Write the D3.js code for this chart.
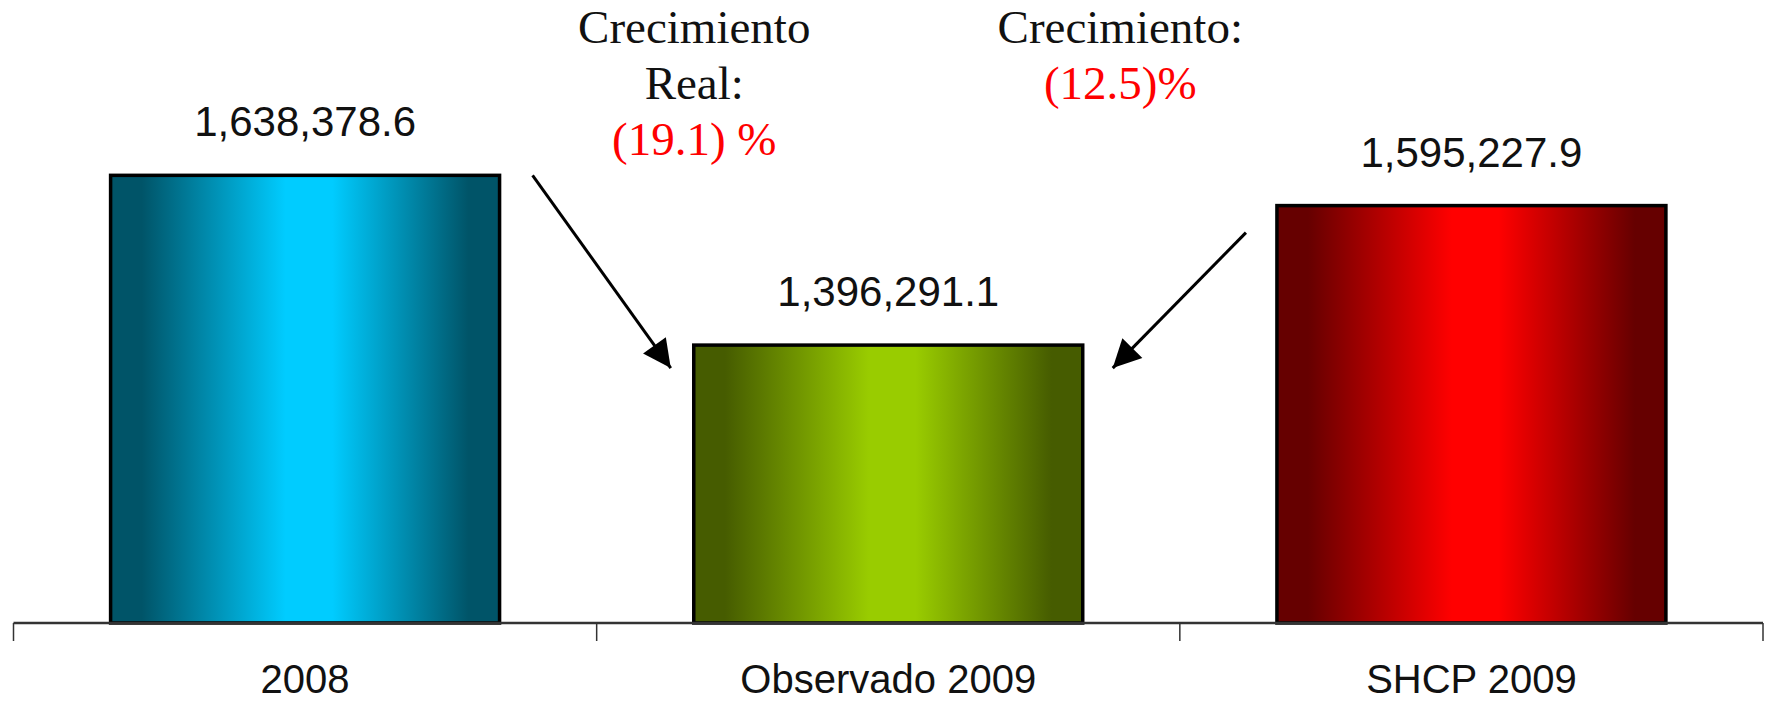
<!DOCTYPE html>
<html>
<head>
<meta charset="utf-8">
<script src="https://cdn.jsdelivr.net/npm/d3@7"></script>
<style>
  body { margin: 0; background: #fff; }
  svg { display: block; }
</style>
</head>
<body>
<script>
// data
var categories = ["2008", "Observado 2009", "SHCP 2009"];
var values = [1638378.6, 1396291.1, 1595227.9];
var edgeColors = ["#005468", "#465c00", "#660000"];
var midColors = ["#00ccff", "#99cc00", "#ff0000"];

// growth notes: black title lines, red value line
var noteLeft = ["Crecimiento", "Real:"];
var noteLeftValue = "(19.1) %";
var noteRight = ["Crecimiento:"];
var noteRightValue = "(12.5)%";

var W = 1770, H = 703;

var svg = d3.select("body").append("svg")
	.attr("width", W)
	.attr("height", H);

var x = d3.scaleBand()
	.domain(categories)
	.range([13.5, 1763])
	.paddingInner(0.333)
	.paddingOuter(0.1665);

var y = d3.scaleLinear()
	.domain([1000000, 1800000])
	.range([623, 62]);

var fmt = d3.format(",.1f");

// gradients, dark at the edges and bright in the middle
var defs = svg.append("defs");
categories.forEach(function(c, i) {
	var g = defs.append("linearGradient")
		.attr("id", "grad" + i)
		.attr("x1", "0%").attr("x2", "100%")
		.attr("y1", "0%").attr("y2", "0%");
	[[0, edgeColors[i]], [8, edgeColors[i]], [45, midColors[i]],
	 [57, midColors[i]], [92, edgeColors[i]], [100, edgeColors[i]]].forEach(function(s) {
		g.append("stop").attr("offset", s[0] + "%").attr("stop-color", s[1]);
	});
});

defs.append("marker")
	.attr("id", "arrow")
	.attr("viewBox", "0 0 10 10")
	.attr("refX", 10).attr("refY", 5)
	.attr("markerWidth", 34).attr("markerHeight", 28)
	.attr("markerUnits", "userSpaceOnUse")
	.attr("orient", "auto")
	.append("path")
		.attr("d", "M0,0 L10,5 L0,10 z")
		.attr("fill", "#000");

// bars
svg.selectAll(".bar")
	.data(values)
	.enter()
	.append("rect")
		.attr("class", "bar")
		.attr("x", function(d, i) { return x(categories[i]); })
		.attr("y", function(d) { return y(d); })
		.attr("width", x.bandwidth())
		.attr("height", function(d) { return y.range()[0] - y(d); })
		.attr("fill", function(d, i) { return "url(#grad" + i + ")"; })
		.attr("stroke", "#000")
		.attr("stroke-width", 3.5);

// value labels
svg.selectAll(".val")
	.data(values)
	.enter()
	.append("text")
		.attr("class", "val")
		.attr("x", function(d, i) { return x(categories[i]) + x.bandwidth() / 2; })
		.attr("y", function(d) { return y(d) - 39; })
		.attr("text-anchor", "middle")
		.style("font-family", "'Liberation Sans', Arial, sans-serif")
		.style("font-size", "42px")
		.attr("fill", "#111")
		.text(function(d) { return fmt(d); });

// axis line and ticks at band boundaries
var base = y.range()[0];
svg.append("line")
	.attr("x1", x.range()[0]).attr("x2", x.range()[1])
	.attr("y1", base).attr("y2", base)
	.attr("stroke", "#333")
	.attr("stroke-width", 2.5);

var bounds = categories.map(function(c) { return x(c) - x.step() * x.paddingInner() / 2; });
bounds.push(x.range()[1]);
svg.selectAll(".tick")
	.data(bounds)
	.enter()
	.append("line")
		.attr("class", "tick")
		.attr("x1", function(d) { return d; }).attr("x2", function(d) { return d; })
		.attr("y1", base).attr("y2", base + 18)
		.attr("stroke", "#333")
		.attr("stroke-width", 1.5);

svg.selectAll(".cat")
	.data(categories)
	.enter()
	.append("text")
		.attr("class", "cat")
		.attr("x", function(d) { return x(d) + x.bandwidth() / 2; })
		.attr("y", 693)
		.attr("text-anchor", "middle")
		.style("font-family", "'Liberation Sans', Arial, sans-serif")
		.style("font-size", "40px")
		.attr("fill", "#111")
		.text(function(d) { return d; });

// growth notes
function note(cx, lines, redLine) {
	var t = svg.append("text")
		.attr("text-anchor", "middle")
		.style("font-family", "'Liberation Serif', 'Times New Roman', serif")
		.style("font-size", "47px");
	lines.forEach(function(l, i) {
		t.append("tspan")
			.attr("x", cx)
			.attr("y", 43 + i * 56)
			.attr("fill", "#111")
			.text(l);
	});
	t.append("tspan")
		.attr("x", cx)
		.attr("y", 43 + lines.length * 56)
		.attr("fill", "#ff0000")
		.text(redLine);
}
var mid = x(categories[1]) + x.bandwidth() / 2;
note(mid - 194, noteLeft, noteLeftValue);
note(mid + 232, noteRight, noteRightValue);

// arrows pointing at the middle bar
var x0r = x(categories[0]) + x.bandwidth();
var x1l = x(categories[1]);
var x1r = x(categories[1]) + x.bandwidth();
var x2l = x(categories[2]);
var arrows = [
	[[x0r + 33, y(values[0])], [x1l - 23, y(values[1]) + 23]],
	[[x2l - 31, y(values[2]) + 27], [x1r + 30, y(values[1]) + 23]]
];
svg.selectAll(".arrow")
	.data(arrows)
	.enter()
	.append("line")
		.attr("class", "arrow")
		.attr("x1", function(d) { return d[0][0]; })
		.attr("y1", function(d) { return d[0][1]; })
		.attr("x2", function(d) { return d[1][0]; })
		.attr("y2", function(d) { return d[1][1]; })
		.attr("stroke", "#000")
		.attr("stroke-width", 3)
		.attr("marker-end", "url(#arrow)");
</script>
</body>
</html>
